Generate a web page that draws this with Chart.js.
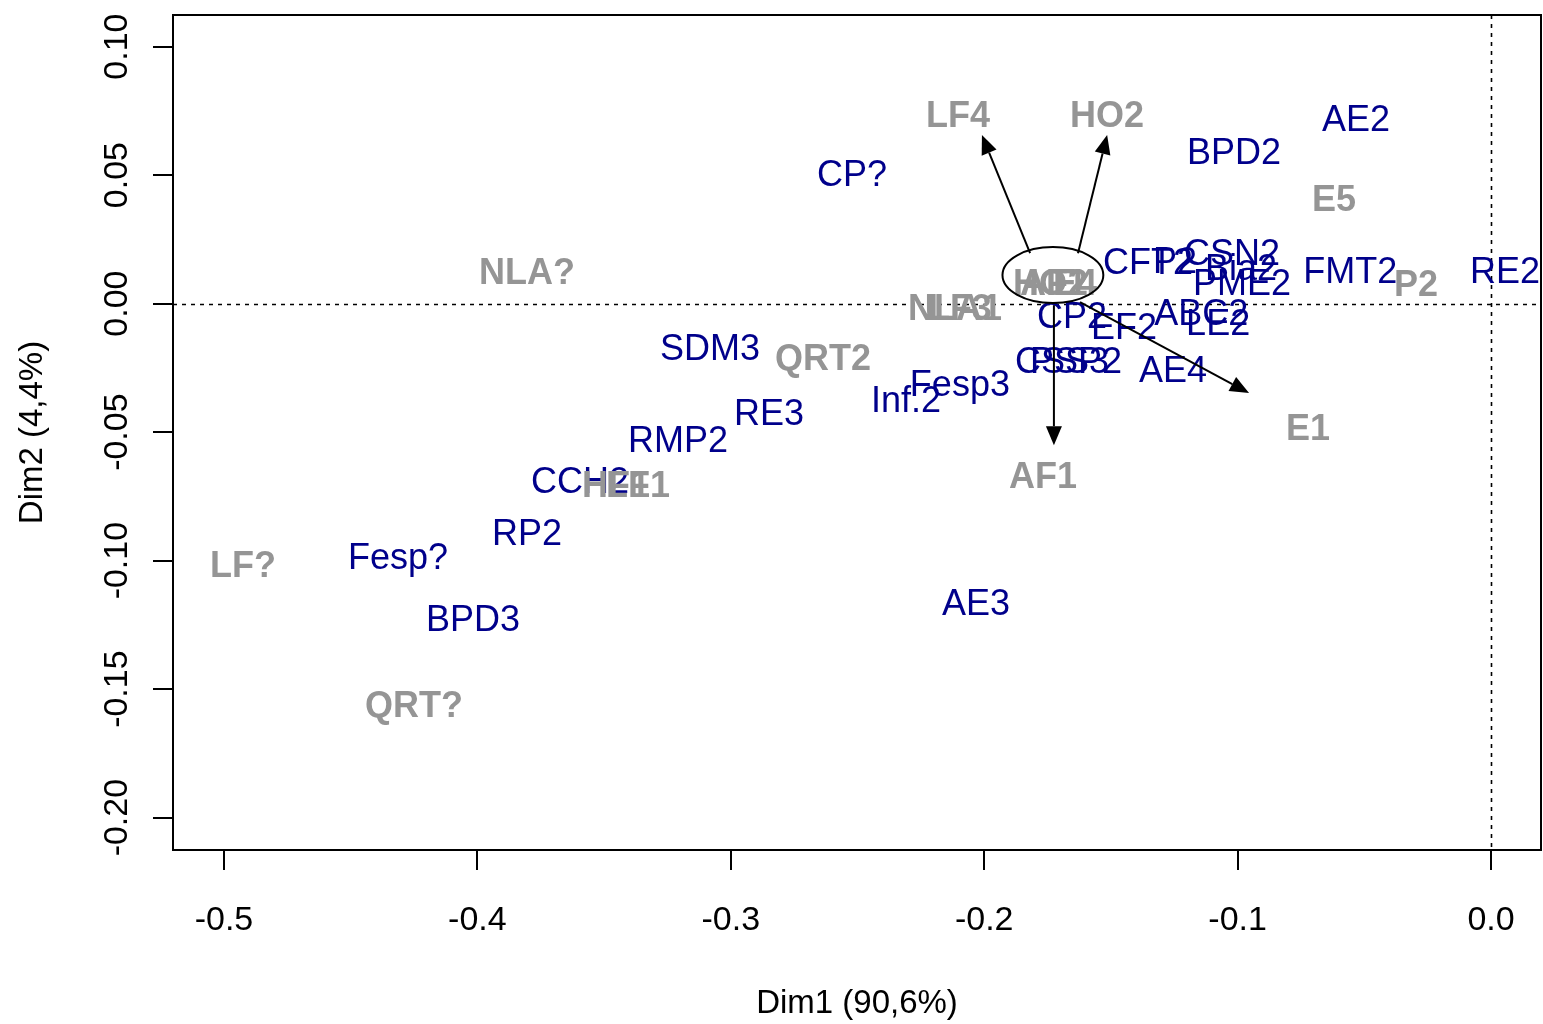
<!DOCTYPE html>
<html>
<head>
<meta charset="utf-8">
<script src="https://cdn.jsdelivr.net/npm/chart.js@4.4.1/dist/chart.umd.min.js"></script>
<style>
  html, body { margin: 0; padding: 0; background: #ffffff; }
  #wrap { width: 1543px; height: 1024px; }
</style>
</head>
<body>
<div id="wrap"><canvas id="ca" width="1543" height="1024"></canvas></div>
<script>
// Row categories (blue) and their coordinates on Dim1 / Dim2
const rowLabels = ["AE2", "BPD2", "CP?", "CFT2", "P2", "CSN2", "Bia2", "PME2", "FMT2", "RE2",
  "CP2", "EF2", "ABC2", "LE2", "CSS3", "PSP2", "AE4", "SDM3", "Fesp3", "Inf.2",
  "RE3", "RMP2", "CCH2", "RP2", "Fesp?", "BPD3", "AE3"];
const rowDim1 = [-0.0533, -0.1014, -0.2522, -0.1354, -0.1247, -0.1022, -0.0987, -0.0983, -0.0556, 0.0055,
  -0.1654, -0.1448, -0.1144, -0.1077, -0.1693, -0.1638, -0.1255, -0.3082, -0.2096, -0.2309,
  -0.2849, -0.3208, -0.3595, -0.3804, -0.4313, -0.4017, -0.2032];
const rowDim2 = [0.0718, 0.0589, 0.0504, 0.0161, 0.0165, 0.0196, 0.0138, 0.0080, 0.0126, 0.0126,
  -0.0049, -0.0091, -0.0037, -0.0076, -0.0224, -0.0224, -0.0259, -0.0173, -0.0313, -0.0375,
  -0.0426, -0.0531, -0.0691, -0.0893, -0.0986, -0.1228, -0.1165];

// Column categories (grey, bold)
const colLabels = ["LF4", "HO2", "E5", "NLA?", "P2", "NLA1", "LF3", "HO1", "AF2", "E4",
  "QRT2", "E1", "AF1", "HF1", "LF1", "LF?", "QRT?"];
const colDim1 = [-0.2103, -0.1515, -0.0620, -0.3804, -0.0296, -0.2115, -0.2096, -0.1740, -0.1725, -0.1642,
  -0.2636, -0.0722, -0.1768, -0.3453, -0.3366, -0.4925, -0.4250];
const colDim2 = [0.0733, 0.0733, 0.0407, 0.0123, 0.0076, -0.0018, -0.0018, 0.0080, 0.0080, 0.0080,
  -0.0212, -0.0484, -0.0671, -0.0706, -0.0706, -0.1018, -0.1562];

// Axis ticks
const xTicks = [-0.5, -0.4, -0.3, -0.2, -0.1, 0.0];
const xTickLabels = ["-0.5", "-0.4", "-0.3", "-0.2", "-0.1", "0.0"];
const yTicks = [0.10, 0.05, 0.00, -0.05, -0.10, -0.15, -0.20];
const yTickLabels = ["0.10", "0.05", "0.00", "-0.05", "-0.10", "-0.15", "-0.20"];

// Group ellipse (centre, radii) and the trajectories leaving it
const groupEllipse = [-0.1729, 0.0111, 0.0199, 0.0109];
const arrowFrom = [[-0.1819, 0.0196], [-0.1630, 0.0196], [-0.1725, -0.0006], [-0.1622, 0.0006]];
const arrowTo = [[-0.2009, 0.0656], [-0.1515, 0.0656], [-0.1725, -0.0551], [-0.0955, -0.0348]];

const ROW_COLOR = "#00008B";
const COL_COLOR = "#959595";
const FONT = "'Liberation Sans', Arial, Helvetica, sans-serif";

function toPoints(xs, ys) {
  return xs.map((x, i) => ({ x: x, y: ys[i] }));
}

const plotDecor = {
  id: "plotDecor",
  beforeDatasetsDraw(chart) {
    const ctx = chart.ctx;
    const xs = chart.scales.x, ys = chart.scales.y;
    const a = chart.chartArea;
    ctx.save();
    ctx.strokeStyle = "#000";
    ctx.lineWidth = 1.6;
    ctx.setLineDash([4, 5]);
    const x0 = Math.round(xs.getPixelForValue(0)) + 0.5;
    const y0 = Math.round(ys.getPixelForValue(0)) + 0.5;
    ctx.beginPath();
    ctx.moveTo(a.left, y0); ctx.lineTo(a.right, y0);
    ctx.moveTo(x0, a.top); ctx.lineTo(x0, a.bottom);
    ctx.stroke();
    ctx.restore();
  },
  afterDatasetsDraw(chart) {
    const ctx = chart.ctx;
    const xs = chart.scales.x, ys = chart.scales.y;
    const a = chart.chartArea;
    ctx.save();
    ctx.textAlign = "center";
    ctx.textBaseline = "middle";

    // point labels
    const drawLabels = (dsIndex, labels, font, color) => {
      const meta = chart.getDatasetMeta(dsIndex);
      ctx.font = font;
      ctx.fillStyle = color;
      meta.data.forEach((el, i) => {
        ctx.fillText(labels[i], el.x, el.y + 2);
      });
    };
    drawLabels(0, rowLabels, "36px " + FONT, ROW_COLOR);
    drawLabels(1, colLabels, "bold 36px " + FONT, COL_COLOR);

    // ellipse around the grouped categories
    const [ex, ey, erx, ery] = groupEllipse;
    const cx = xs.getPixelForValue(ex), cy = ys.getPixelForValue(ey);
    const rx = Math.abs(xs.getPixelForValue(ex + erx) - cx);
    const ry = Math.abs(ys.getPixelForValue(ey + ery) - cy);
    ctx.strokeStyle = "#000";
    ctx.lineWidth = 2;
    ctx.setLineDash([]);
    ctx.beginPath();
    ctx.ellipse(cx, cy, rx, ry, 0, 0, Math.PI * 2);
    ctx.stroke();

    // arrows
    ctx.fillStyle = "#000";
    arrowFrom.forEach((f, i) => {
      const t = arrowTo[i];
      const px0 = xs.getPixelForValue(f[0]), py0 = ys.getPixelForValue(f[1]);
      const px1 = xs.getPixelForValue(t[0]), py1 = ys.getPixelForValue(t[1]);
      const ang = Math.atan2(py1 - py0, px1 - px0);
      const hl = 19, hw = 8;
      const bx = px1 - hl * Math.cos(ang), by = py1 - hl * Math.sin(ang);
      ctx.beginPath();
      ctx.moveTo(px0, py0); ctx.lineTo(bx, by);
      ctx.stroke();
      ctx.beginPath();
      ctx.moveTo(px1, py1);
      ctx.lineTo(bx + hw * Math.sin(ang), by - hw * Math.cos(ang));
      ctx.lineTo(bx - hw * Math.sin(ang), by + hw * Math.cos(ang));
      ctx.closePath();
      ctx.fill();
    });

    // frame
    ctx.lineWidth = 2;
    ctx.strokeRect(a.left, a.top, a.right - a.left, a.bottom - a.top);

    // axis ticks and labels
    ctx.fillStyle = "#000";
    ctx.font = "34px " + FONT;
    ctx.lineWidth = 2;
    ctx.beginPath();
    xTicks.forEach((v) => {
      const px = Math.round(xs.getPixelForValue(v));
      ctx.moveTo(px, a.bottom); ctx.lineTo(px, a.bottom + 20);
    });
    yTicks.forEach((v) => {
      const py = Math.round(ys.getPixelForValue(v));
      ctx.moveTo(a.left, py); ctx.lineTo(a.left - 20, py);
    });
    ctx.stroke();
    xTicks.forEach((v, i) => {
      ctx.fillText(xTickLabels[i], xs.getPixelForValue(v), 921);
    });
    yTicks.forEach((v, i) => {
      ctx.save();
      ctx.translate(118, ys.getPixelForValue(v));
      ctx.rotate(-Math.PI / 2);
      ctx.fillText(yTickLabels[i], 0, 0);
      ctx.restore();
    });

    // axis titles
    ctx.font = "33px " + FONT;
    ctx.fillText("Dim1 (90,6%)", (a.left + a.right) / 2, 1004);
    ctx.save();
    ctx.translate(33, (a.top + a.bottom) / 2);
    ctx.rotate(-Math.PI / 2);
    ctx.fillText("Dim2 (4,4%)", 0, 0);
    ctx.restore();

    ctx.restore();
  }
};

new Chart(document.getElementById("ca"), {
  type: "scatter",
  data: {
    datasets: [
      { label: "rows", data: toPoints(rowDim1, rowDim2), pointRadius: 0, pointHoverRadius: 0, backgroundColor: ROW_COLOR },
      { label: "columns", data: toPoints(colDim1, colDim2), pointRadius: 0, pointHoverRadius: 0, backgroundColor: COL_COLOR }
    ]
  },
  options: {
    responsive: false,
    animation: false,
    events: [],
    layout: { padding: { left: 173, top: 15, right: 2, bottom: 174 } },
    plugins: { legend: { display: false }, tooltip: { enabled: false } },
    scales: {
      x: { type: "linear", display: false, min: -0.5201, max: 0.0197 },
      y: { type: "linear", display: false, min: -0.2126, max: 0.1123 }
    }
  },
  plugins: [plotDecor]
});
</script>
</body>
</html>
